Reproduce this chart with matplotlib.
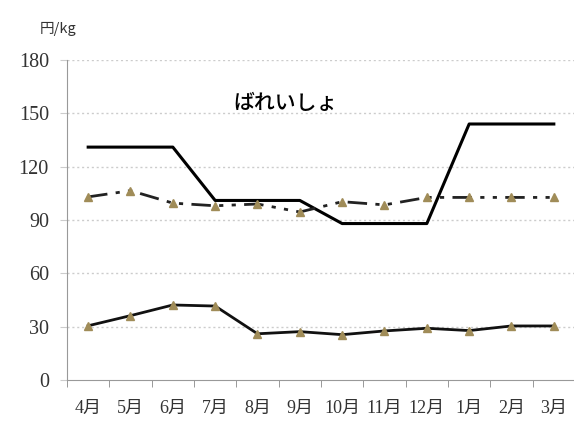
import matplotlib
matplotlib.use("Agg")
import matplotlib.pyplot as plt
import numpy as np

months = ["4月", "5月", "6月", "7月", "8月", "9月", "10月", "11月", "12月", "1月", "2月", "3月"]
step_series = [131, 131, 131, 101, 101, 101, 88, 88, 88, 144, 144, 144]
dashdot_series = [103, 106.5, 99.5, 98, 99, 94.5, 100.3, 98.5, 102.7, 102.7, 102.7, 102.7]
lower_series = [30.5, 36.2, 42.2, 41.6, 26, 27.2, 25.5, 27.6, 29.1, 27.8, 30.4, 30.4]
yticks = [0, 30, 60, 90, 120, 150, 180]
title = "ばれいしょ"
unit = "円/kg"

fig = plt.figure(figsize=(5.74, 4.21), dpi=100)
ax = fig.add_axes([67/574, 1-380/421, 508/574, 320/421])

x = np.arange(len(months))
marker_color = "#a08c58"
ax.plot(x, step_series, color="black", lw=2.2, zorder=3)
ax.plot(x, dashdot_series, color="#222222", lw=2.0, dashes=[7, 3, 1.5, 3, 1.5, 3],
        marker="^", markersize=6, markerfacecolor=marker_color, markeredgecolor=marker_color, zorder=3)
ax.plot(x, lower_series, color="#111111", lw=2.0,
        marker="^", markersize=6, markerfacecolor=marker_color, markeredgecolor=marker_color, zorder=3)

ax.set_xlim(-0.5, len(months) - 0.5)
ax.set_ylim(0, 180)
ax.set_yticks(yticks)
ax.set_yticklabels([str(v) for v in yticks], family=["Liberation Serif"], fontsize=14.5, color="#333333")
ax.set_xticks(x)
ax.set_xticklabels(months, family=["Liberation Serif", "Noto Sans CJK JP"], fontsize=13, color="#333333")
ax.set_xticks(np.arange(len(months) + 1) - 0.5, minor=True)
ax.tick_params(axis="x", which="major", length=0, pad=14)
ax.tick_params(axis="x", which="minor", length=5, color="#888888", direction="out")
ax.tick_params(axis="y", length=5, color="#cccccc", direction="out", pad=8)

for v in yticks[1:]:
    ax.axhline(v, color="#cccccc", lw=1.0, ls=(0, (1.5, 2)), zorder=1)

for s in ["top", "right"]:
    ax.spines[s].set_visible(False)
ax.spines["left"].set_color("#999999")
ax.spines["bottom"].set_color("#999999")

ax.text(4.67, 156, title, fontsize=15, fontweight="medium", family=["Noto Sans CJK JP"], ha="center", va="center")
fig.text(40/574, 1-29/421, unit, fontsize=10.5, family=["Noto Sans CJK JP", "DejaVu Sans"], ha="left", va="center", color="#333333")

fig.savefig("out.png", dpi=100)
